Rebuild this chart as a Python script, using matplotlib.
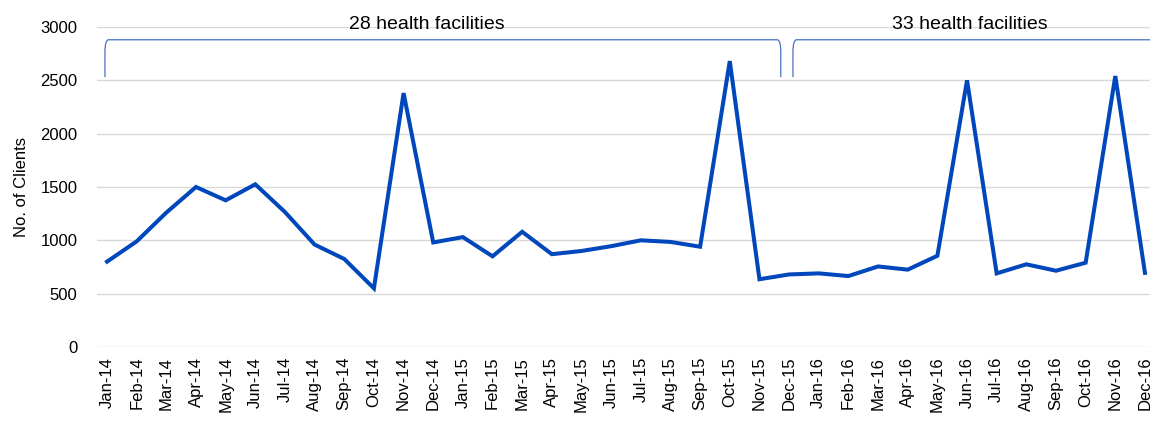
import matplotlib.pyplot as plt
from matplotlib.path import Path
from matplotlib.patches import PathPatch

plt.rcParams['font.family'] = ['Liberation Sans', 'DejaVu Sans']

# monthly clients, Jan-14 .. Dec-16
months = ['Jan-14', 'Feb-14', 'Mar-14', 'Apr-14', 'May-14', 'Jun-14', 'Jul-14', 'Aug-14',
          'Sep-14', 'Oct-14', 'Nov-14', 'Dec-14', 'Jan-15', 'Feb-15', 'Mar-15', 'Apr-15',
          'May-15', 'Jun-15', 'Jul-15', 'Aug-15', 'Sep-15', 'Oct-15', 'Nov-15', 'Dec-15',
          'Jan-16', 'Feb-16', 'Mar-16', 'Apr-16', 'May-16', 'Jun-16', 'Jul-16', 'Aug-16',
          'Sep-16', 'Oct-16', 'Nov-16', 'Dec-16']
clients = [800, 990, 1260, 1500, 1375, 1525, 1265, 960,
           825, 550, 2380, 980, 1030, 850, 1080, 870,
           900, 945, 1000, 985, 940, 2680, 635, 680,
           690, 665, 755, 725, 855, 2500, 690, 775,
           715, 790, 2540, 695]

# periods shown by the brackets (month index range) and their labels
periods = [(-0.07, 22.72, '28 health facilities'),
           (23.13, 36.5, '33 health facilities')]

fig = plt.figure(figsize=(11.5, 4.4), dpi=100)
ax = fig.add_axes([0.0843, 0.2114, 0.9157, 0.7273])

x = list(range(len(months)))
ax.plot(x, clients, color='#0047BB', linewidth=2.9, solid_joinstyle='miter')

ax.set_ylim(0, 3000)
ax.set_xlim(-0.34, 35.17)
ax.set_yticks(range(0, 3001, 500))
ax.set_xticks(x)
ax.set_xticklabels(months, rotation=90, fontsize=12)
ax.tick_params(axis='y', labelsize=12, length=0, pad=14)
ax.tick_params(axis='x', length=0, pad=7)
ax.grid(axis='y', color='#d9d9d9', linewidth=1)
ax.set_axisbelow(True)
for s in ax.spines.values():
    s.set_visible(False)
ax.set_ylabel('No. of Clients', fontsize=12, labelpad=8)

# brackets above the line
y0, y1 = 2530, 2880
for a, b, label in periods:
    r = 0.12
    verts = [(a, y0), (a, y1 - 120), (a, y1), (a + r, y1),
             (b - r, y1), (b, y1), (b, y1 - 120), (b, y0)]
    codes = [Path.MOVETO, Path.LINETO, Path.CURVE3, Path.CURVE3,
             Path.LINETO, Path.CURVE3, Path.CURVE3, Path.LINETO]
    ax.add_patch(PathPatch(Path(verts, codes), fill=False, edgecolor='#4472C4',
                           linewidth=0.9, clip_on=False))

ax.text(10.8, 3020, periods[0][2], ha='center', va='center', fontsize=14)
ax.text(29.1, 3020, periods[1][2], ha='center', va='center', fontsize=14)

fig.savefig('out.png', dpi=100)
